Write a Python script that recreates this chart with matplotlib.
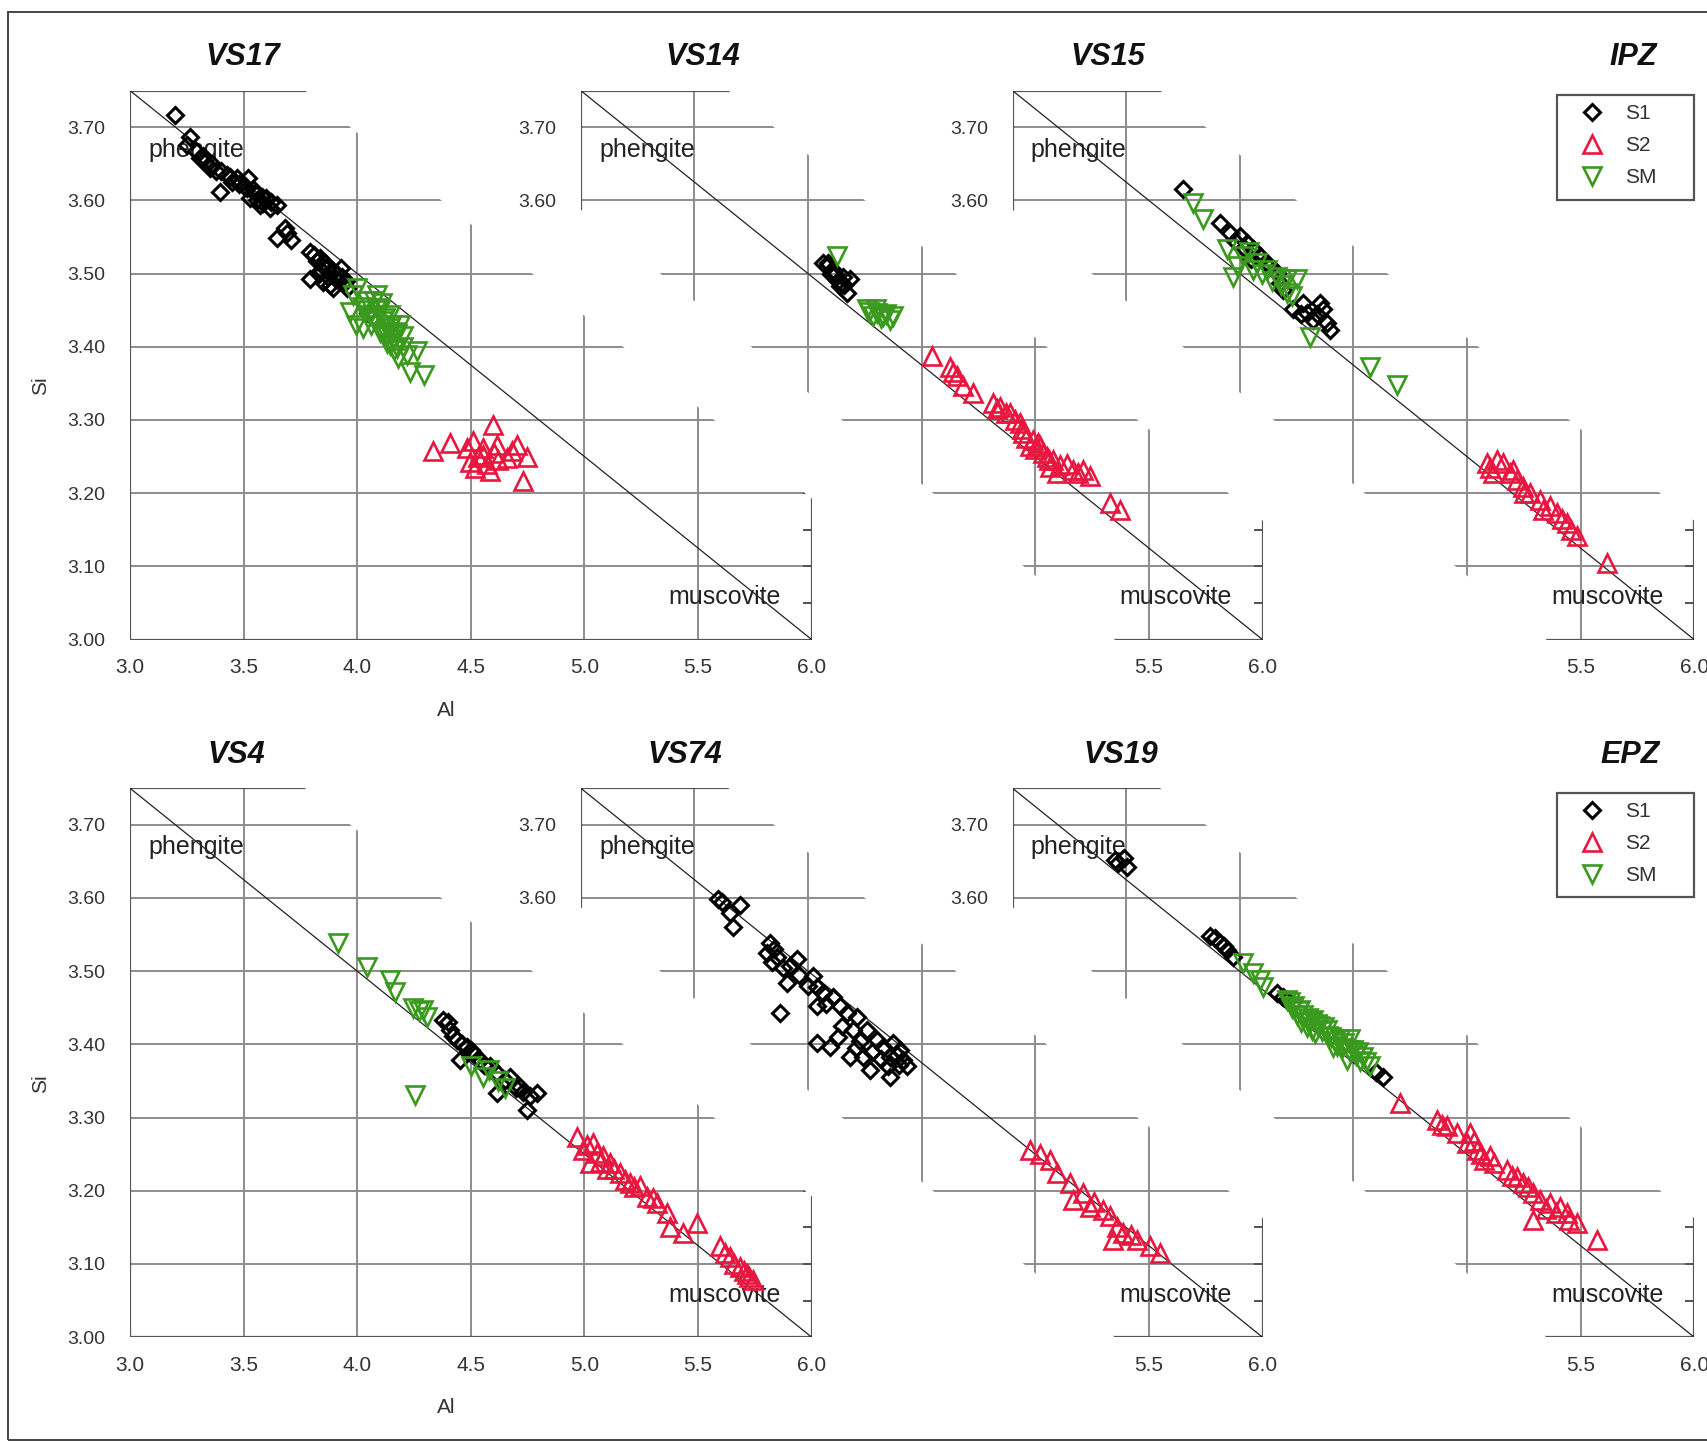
import matplotlib
matplotlib.use("Agg")
import matplotlib.pyplot as plt
import matplotlib.lines as mlines
from matplotlib.patches import Polygon, Rectangle

plt.rcParams['font.family'] = ['Liberation Sans', 'DejaVu Sans']

# ---------------- data (Al, Si) ----------------
vs17_s1 = [(3.198, 3.717), (3.264, 3.686), (3.249, 3.676), (3.308, 3.658), (3.330, 3.652), (3.352, 3.644),
           (3.380, 3.640), (3.396, 3.612), (3.425, 3.635), (3.450, 3.625), (3.470, 3.631), (3.500, 3.620),
           (3.520, 3.631), (3.513, 3.617), (3.528, 3.603), (3.550, 3.610), (3.572, 3.594), (3.600, 3.603),
           (3.616, 3.590), (3.645, 3.594), (3.645, 3.549), (3.680, 3.562), (3.710, 3.546), (3.792, 3.530),
           (3.792, 3.492), (3.822, 3.517), (3.836, 3.521), (3.850, 3.510), (3.866, 3.508), (3.880, 3.500),
           (3.910, 3.499), (3.930, 3.508), (3.940, 3.489), (3.954, 3.480), (3.851, 3.489), (3.895, 3.480),
           (3.870, 3.495), (3.920, 3.490), (4.049, 3.446), (3.290, 3.668), (3.320, 3.660), (3.360, 3.650),
           (3.400, 3.640), (3.440, 3.632), (3.480, 3.622), (3.540, 3.615), (3.580, 3.605), (3.620, 3.598),
           (3.585, 3.596), (3.560, 3.600), (3.690, 3.555), (3.810, 3.525), (3.840, 3.505), (3.860, 3.515),
           (3.890, 3.505), (3.905, 3.492), (3.880, 3.485), (3.935, 3.495), (3.830, 3.500), (3.950, 3.490)]
vs17_s2 = [(4.335, 3.257), (4.408, 3.268), (4.482, 3.262), (4.511, 3.271), (4.496, 3.243), (4.555, 3.252),
           (4.599, 3.293), (4.614, 3.266), (4.584, 3.230), (4.657, 3.248), (4.701, 3.266), (4.745, 3.250),
           (4.730, 3.216), (4.518, 3.234), (4.555, 3.262), (4.530, 3.250), (4.620, 3.245), (4.570, 3.240),
           (4.600, 3.255), (4.680, 3.258)]
vs17_sm = [(3.969, 3.448), (4.027, 3.426), (3.983, 3.471), (4.042, 3.462), (4.086, 3.453), (4.115, 3.435),
           (4.145, 3.426), (4.174, 3.417), (4.115, 3.417), (4.145, 3.403), (4.174, 3.398), (4.218, 3.389),
           (4.262, 3.394), (4.233, 3.366), (4.292, 3.362), (3.996, 3.430), (4.055, 3.444), (4.086, 3.471),
           (4.145, 3.444), (4.189, 3.430), (4.070, 3.440), (4.100, 3.450), (4.130, 3.415), (4.160, 3.410),
           (4.200, 3.400), (4.000, 3.480), (4.020, 3.455), (4.060, 3.430), (4.180, 3.385), (4.100, 3.420),
           (4.120, 3.440), (4.150, 3.430), (4.170, 3.420), (4.080, 3.435), (4.040, 3.450), (4.200, 3.415),
           (4.130, 3.405), (4.160, 3.395), (4.110, 3.460), (4.075, 3.462)]

vs14_s1 = [(4.067, 3.515), (4.111, 3.505), (4.155, 3.496), (4.185, 3.492), (4.141, 3.483), (4.170, 3.474),
           (4.082, 3.510), (4.100, 3.500), (4.130, 3.490), (4.090, 3.515), (4.120, 3.500), (4.160, 3.485)]
vs14_s2 = [(4.545, 3.387), (4.625, 3.373), (4.654, 3.360), (4.684, 3.346), (4.728, 3.337), (4.816, 3.323),
           (4.845, 3.318), (4.889, 3.309), (4.933, 3.296), (4.948, 3.282), (4.977, 3.264), (4.992, 3.273),
           (5.021, 3.264), (5.036, 3.255), (5.065, 3.236), (5.080, 3.246), (5.095, 3.227), (5.139, 3.240),
           (5.168, 3.232), (5.212, 3.232), (5.241, 3.223), (5.329, 3.186), (5.373, 3.177), (4.960, 3.275),
           (5.000, 3.260), (5.050, 3.250), (4.910, 3.300), (4.870, 3.310), (4.640, 3.365), (4.830, 3.315),
           (4.940, 3.288), (5.010, 3.268), (5.060, 3.245), (5.110, 3.238), (5.190, 3.228)]
vs14_sm = [(4.126, 3.524), (4.258, 3.451), (4.302, 3.446), (4.331, 3.442), (4.361, 3.437), (4.376, 3.442),
           (4.287, 3.442), (4.270, 3.448), (4.320, 3.440), (4.345, 3.445), (4.300, 3.452)]

vs15_s1 = [(3.752, 3.615), (3.913, 3.569), (3.957, 3.556), (4.001, 3.551), (4.031, 3.542), (4.060, 3.533),
           (4.089, 3.524), (4.133, 3.510), (4.163, 3.501), (4.177, 3.487), (4.192, 3.478), (4.236, 3.451),
           (4.280, 3.460), (4.295, 3.446), (4.353, 3.460), (4.368, 3.451), (4.383, 3.433), (4.397, 3.423),
           (4.324, 3.437), (4.050, 3.520), (4.110, 3.515), (4.270, 3.445), (3.980, 3.545), (4.020, 3.535),
           (4.150, 3.505), (4.340, 3.445)]
vs15_s2 = [(5.087, 3.241), (5.131, 3.246), (5.160, 3.241), (5.190, 3.227), (5.219, 3.218), (5.248, 3.209),
           (5.278, 3.200), (5.322, 3.191), (5.366, 3.182), (5.395, 3.173), (5.439, 3.159), (5.483, 3.141),
           (5.615, 3.104), (5.204, 3.232), (5.336, 3.177), (5.116, 3.227), (5.100, 3.235), (5.250, 3.200),
           (5.420, 3.165), (5.460, 3.150)]
vs15_sm = [(3.796, 3.597), (3.840, 3.574), (3.943, 3.533), (3.972, 3.496), (3.987, 3.510), (4.016, 3.524),
           (4.075, 3.515), (4.119, 3.505), (4.163, 3.496), (4.207, 3.492), (4.251, 3.492), (4.207, 3.474),
           (4.309, 3.414), (4.574, 3.373), (4.691, 3.348), (4.040, 3.530), (4.100, 3.500), (4.140, 3.490),
           (4.060, 3.505), (4.180, 3.485), (4.230, 3.470)]

vs4_s1 = [(4.379, 3.434), (4.408, 3.420), (4.438, 3.406), (4.482, 3.397), (4.511, 3.388), (4.540, 3.379),
          (4.585, 3.370), (4.614, 3.361), (4.614, 3.333), (4.673, 3.356), (4.717, 3.342), (4.761, 3.329),
          (4.790, 3.333), (4.746, 3.311), (4.452, 3.379), (4.400, 3.430), (4.460, 3.400), (4.700, 3.340),
          (4.420, 3.412), (4.500, 3.392), (4.560, 3.372), (4.650, 3.352), (4.730, 3.335)]
vs4_s2 = [(4.966, 3.274), (4.995, 3.256), (5.039, 3.265), (5.054, 3.251), (5.083, 3.247), (5.113, 3.238),
          (5.157, 3.224), (5.201, 3.210), (5.245, 3.206), (5.274, 3.192), (5.318, 3.183), (5.362, 3.169),
          (5.377, 3.151), (5.435, 3.142), (5.494, 3.156), (5.597, 3.124), (5.641, 3.110), (5.685, 3.096),
          (5.714, 3.087), (5.743, 3.078), (5.024, 3.238), (5.130, 3.230), (5.180, 3.215), (5.660, 3.100),
          (5.700, 3.090), (5.010, 3.262), (5.070, 3.240), (5.100, 3.230), (5.220, 3.205), (5.300, 3.190),
          (5.620, 3.115), (5.725, 3.082)]
vs4_sm = [(3.917, 3.538), (4.042, 3.506), (4.144, 3.488), (4.166, 3.472), (4.247, 3.450), (4.291, 3.447),
          (4.254, 3.331), (4.306, 3.438), (4.555, 3.356), (4.500, 3.370), (4.620, 3.350), (4.270, 3.445),
          (4.580, 3.365), (4.650, 3.340)]

vs74_s1 = [(3.605, 3.598), (3.701, 3.591), (3.657, 3.579), (3.671, 3.561), (3.833, 3.538), (3.818, 3.525),
           (3.862, 3.520), (3.921, 3.507), (3.950, 3.516), (3.906, 3.484), (3.877, 3.443), (4.023, 3.493),
           (4.038, 3.479), (4.067, 3.470), (4.038, 3.452), (4.111, 3.465), (4.141, 3.452), (4.170, 3.443),
           (4.214, 3.438), (4.038, 3.402), (4.097, 3.397), (4.185, 3.383), (4.273, 3.365), (4.361, 3.356),
           (4.258, 3.420), (4.302, 3.406), (4.331, 3.397), (4.376, 3.402), (4.405, 3.393), (4.420, 3.379),
           (4.434, 3.370), (4.361, 3.383), (4.243, 3.383), (3.620, 3.595), (3.850, 3.530), (4.000, 3.480),
           (4.200, 3.420), (4.390, 3.385), (3.840, 3.512), (3.890, 3.505), (3.960, 3.495), (4.080, 3.455),
           (4.150, 3.425), (4.230, 3.405), (4.280, 3.390), (4.320, 3.380), (4.400, 3.372), (4.130, 3.410),
           (4.210, 3.395), (4.350, 3.370)]
vs74_s2 = [(4.977, 3.256), (5.065, 3.242), (5.095, 3.224), (5.153, 3.210), (5.168, 3.188), (5.212, 3.197),
           (5.241, 3.178), (5.300, 3.174), (5.329, 3.165), (5.359, 3.151), (5.388, 3.142), (5.344, 3.133),
           (5.447, 3.133), (5.505, 3.124), (5.550, 3.115), (5.020, 3.250), (5.260, 3.185), (5.420, 3.140)]
vs74_sm = []

vs19_s1 = [(3.466, 3.648), (3.503, 3.643), (3.450, 3.652), (3.490, 3.655), (3.869, 3.548), (3.913, 3.538),
           (3.943, 3.529), (3.972, 3.520), (3.890, 3.545), (4.163, 3.470), (4.190, 3.465), (4.632, 3.356),
           (4.600, 3.362), (3.930, 3.535), (4.210, 3.460)]
vs19_s2 = [(4.706, 3.320), (4.867, 3.297), (4.911, 3.288), (4.955, 3.279), (5.000, 3.265), (5.043, 3.256),
           (5.073, 3.242), (5.102, 3.247), (5.175, 3.229), (5.219, 3.219), (5.248, 3.210), (5.292, 3.197),
           (5.322, 3.188), (5.292, 3.160), (5.366, 3.183), (5.410, 3.178), (5.439, 3.169), (5.483, 3.156),
           (5.571, 3.133), (5.014, 3.279), (4.890, 3.290), (5.060, 3.250), (5.200, 3.220), (5.350, 3.175),
           (5.450, 3.160), (5.030, 3.268), (5.120, 3.238), (5.270, 3.205), (5.390, 3.170)]
vs19_sm = [(4.016, 3.511), (4.060, 3.497), (4.089, 3.488), (4.104, 3.479), (4.207, 3.461), (4.265, 3.447),
           (4.324, 3.434), (4.383, 3.420), (4.441, 3.407), (4.500, 3.393), (4.544, 3.383), (4.573, 3.370),
           (4.294, 3.424), (4.412, 3.397), (4.485, 3.407), (4.470, 3.379), (4.230, 3.450), (4.250, 3.440),
           (4.350, 3.425), (4.400, 3.410), (4.520, 3.390), (4.330, 3.415), (4.280, 3.440), (4.450, 3.395),
           (4.220, 3.458), (4.240, 3.452), (4.260, 3.446), (4.300, 3.436), (4.310, 3.430), (4.340, 3.428),
           (4.360, 3.418), (4.370, 3.424), (4.390, 3.412), (4.420, 3.404), (4.430, 3.398), (4.460, 3.402),
           (4.480, 3.392), (4.510, 3.385), (4.530, 3.378), (4.555, 3.376), (4.270, 3.430), (4.320, 3.420)]

sample_names = ['VS17', 'VS14', 'VS15', 'VS4', 'VS74', 'VS19']
zone_names = ['IPZ', 'EPZ']
series_labels = ['S1', 'S2', 'SM']
x_ticks = [3.0, 3.5, 4.0, 4.5, 5.0, 5.5, 6.0]
y_ticks = [3.00, 3.10, 3.20, 3.30, 3.40, 3.50, 3.60, 3.70]
y_minor = [3.05, 3.15, 3.25, 3.35, 3.45, 3.55, 3.65, 3.75]
diag_al = [3.0, 6.0]   # phengite - muscovite line
diag_si = [3.75, 3.0]

datasets = [(vs17_s1, vs17_s2, vs17_sm), (vs14_s1, vs14_s2, vs14_sm), (vs15_s1, vs15_s2, vs15_sm),
            (vs4_s1, vs4_s2, vs4_sm), (vs74_s1, vs74_s2, vs74_sm), (vs19_s1, vs19_s2, vs19_sm)]

# ---------------- layout / style ----------------
W, H = 1707, 1442
fig = plt.figure(figsize=(W / 100, H / 100), dpi=100)

LEFT_PX = [130.0, 580.8, 1012.5]
BOTTOM_PX = [639.6, 1337.2]
AXW, AXH = 681.7, 549.0
BANDS = [(20.0, 0.77), (0.65, 0.65), (0.65, 0.65)]
TITLE_X = [[242.7, 703.0, 1107.6, 1633.3], [236.0, 685.0, 1121.0, 1630.0]]
TITLE_Y = [57.0, 754.6]
ROW_DY = 697.6

styles = [dict(marker='D', ms=8.5, mec='#000000', mew=2.2),
          dict(marker='^', ms=13.5, mec='#e8173f', mew=1.9),
          dict(marker='v', ms=13.5, mec='#3a9a1e', mew=1.9)]

GRID_C = '#8c8c8c'
SPINE_C = '#555555'
TXT_C = '#333333'


def diag(si):
    return diag_al[0] + (diag_si[0] - si) * (diag_al[1] - diag_al[0]) / (diag_si[0] - diag_si[1])


for idx, name in enumerate(sample_names):
    row, col = divmod(idx, 3)
    L = LEFT_PX[col]
    B = BOTTOM_PX[row]
    ax = fig.add_axes([L / W, (H - B) / H, AXW / W, AXH / H])
    ax.set_xlim(3.0, 6.0)
    ax.set_ylim(3.0, 3.75)
    ax.patch.set_visible(False)
    wl, wu = BANDS[col]

    def in_band(al, si, wl=wl, wu=wu):
        d = diag(si)
        return d - wl - 1e-9 <= al <= d + wu + 1e-9

    s_lo, s_hi = 2.8, 3.95
    band = Polygon([(diag(s_lo) - wl, s_lo), (diag(s_lo) + wu, s_lo),
                    (diag(s_hi) + wu, s_hi), (diag(s_hi) - wl, s_hi)],
                   closed=True, transform=ax.transData)

    ax.set_xticks(x_ticks)
    ax.set_yticks(y_ticks)
    ax.set_yticks(y_minor, minor=True)
    ax.set_xticklabels([f'{v:.1f}' if in_band(v, 3.0) else '' for v in x_ticks])
    ax.set_yticklabels([f'{v:.2f}' if in_band(3.0, v) else '' for v in y_ticks])
    ax.tick_params(axis='both', which='both', direction='out', color=SPINE_C, width=1.3,
                   length=6.5, labelcolor=TXT_C)
    ax.tick_params(axis='y', which='both', left=True, right=True, pad=11, labelsize=14)
    ax.tick_params(axis='x', which='both', bottom=True, top=False, pad=7, labelsize=15)
    ax.grid(True, which='major', color=GRID_C, lw=1.4)
    ax.set_axisbelow(True)

    for sp in ax.spines.values():
        sp.set_color(SPINE_C)
        sp.set_linewidth(1.6)
        sp.set_clip_box(None)
        sp.set_clip_path(band)
        sp.set_clip_on(True)

    ticks = ax.xaxis.get_major_ticks() + ax.yaxis.get_major_ticks() + ax.yaxis.get_minor_ticks()
    for t in ticks:
        for ln in (t.tick1line, t.tick2line, t.gridline):
            ln.set_clip_path(band)
            ln.set_clip_on(True)
    for t in ax.yaxis.get_major_ticks() + ax.yaxis.get_minor_ticks():
        t.tick2line.set_marker(mlines.TICKLEFT)

    ax.plot(diag_al, diag_si, color='#222222', lw=0.9, zorder=3)

    for series, st in zip(datasets[idx], styles):
        if series:
            al = [p[0] for p in series]
            si = [p[1] for p in series]
            ax.plot(al, si, ls='none', mfc='none', zorder=4, **st)

    ax.text(3.08, 3.669, 'phengite', fontsize=18, color='#222222', ha='left', va='center', zorder=3.5)
    ax.text(5.37, 3.058, 'muscovite', fontsize=18, color='#222222', ha='left', va='center', zorder=3.5)

    fig.text(TITLE_X[row][col] / W, 1 - TITLE_Y[row] / H, name, fontsize=22, fontweight='bold',
             fontstyle='italic', ha='center', va='center', color='#111111')

for row in range(2):
    dy = row * ROW_DY
    fig.text(TITLE_X[row][3] / W, 1 - TITLE_Y[row] / H, zone_names[row], fontsize=22,
             fontweight='bold', fontstyle='italic', ha='center', va='center', color='#111111')
    # legend box
    bx0, by0, bx1, by1 = 1557.0, 95.0 + dy, 1694.0, 199.5 + dy
    fig.add_artist(Rectangle((bx0 / W, 1 - by1 / H), (bx1 - bx0) / W, (by1 - by0) / H,
                             transform=fig.transFigure, fill=False, ec=SPINE_C, lw=1.6))
    handles = [mlines.Line2D([], [], ls='none', mfc='none', **st) for st in styles]
    fig.legend(handles, series_labels, loc='upper left',
               bbox_to_anchor=(bx0 / W, 1 - by0 / H), frameon=False,
               fontsize=15, borderpad=0.45, labelspacing=0.62,
               handletextpad=0.36, handlelength=2.46, borderaxespad=0.0, labelcolor=TXT_C)
    fig.text(41 / W, 1 - (386 + dy) / H, 'Si', rotation=90, fontsize=15,
             ha='center', va='center', color=TXT_C)
    fig.text(446 / W, 1 - (710 + dy) / H, 'Al', fontsize=15, ha='center', va='center',
             color=TXT_C)

fig.add_artist(Rectangle((8 / W, 2 / H), 1.2, (1430 - 2) / H, transform=fig.transFigure,
                         fill=False, ec='#444444', lw=1.4, clip_on=False))

fig.savefig('out.png', dpi=100)
